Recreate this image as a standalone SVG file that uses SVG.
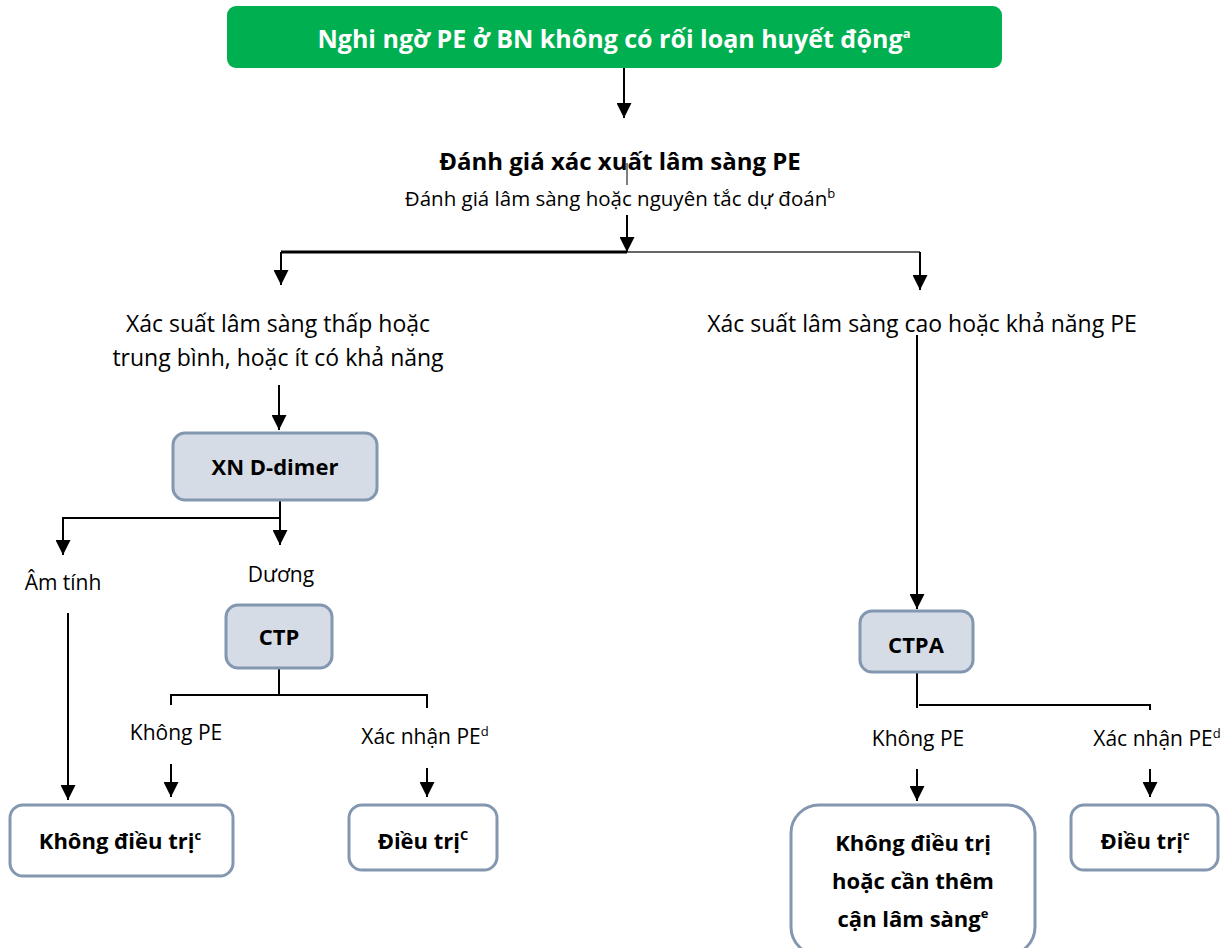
<svg xmlns="http://www.w3.org/2000/svg" width="1231" height="948" viewBox="0 0 1231 948">
<defs>
<style>
text{font-family:"Open Sans","Liberation Sans",sans-serif;fill:#000;text-anchor:middle}
.b{font-weight:bold}
.t{font-size:22px;font-weight:bold}
.r{font-size:23px}
.s{font-size:21px}
.sup{font-size:13px}
.grey{fill:#d6dce5;stroke:#8497b0;stroke-width:3}
.white{fill:#fff;stroke:#8497b0;stroke-width:3}
.ln{fill:none;stroke:#000;stroke-width:2}
</style>
<marker id="ahb" viewBox="0 0 10 10" refX="10" refY="5" markerWidth="15" markerHeight="15" markerUnits="userSpaceOnUse" orient="auto"><path d="M0,0 L10,5 L0,10 z" fill="#000"/></marker>
</defs>

<g id="connectors">
<path class="ln" d="M624,68 V118" marker-end="url(#ahb)"/>
<path d="M627,163 V185" stroke="#000" stroke-width="1" fill="none"/>
<path class="ln" d="M627,215 V252" marker-end="url(#ahb)"/>
<path d="M281,252 H627" stroke="#000" stroke-width="3" fill="none"/>
<path d="M627,252 H920" stroke="#333" stroke-width="1.5" fill="none"/>
<path class="ln" d="M281,252 V285" marker-end="url(#ahb)"/>
<path class="ln" d="M920,252 V290" marker-end="url(#ahb)"/>
<path class="ln" d="M279,385 V430" marker-end="url(#ahb)"/>
<path class="ln" d="M280,500 V518 H63 V555" marker-end="url(#ahb)"/>
<path class="ln" d="M280,518 V545" marker-end="url(#ahb)"/>
<path class="ln" d="M68,613 V800" marker-end="url(#ahb)"/>
<path class="ln" d="M279,668 V695"/>
<path class="ln" d="M171,705 V695 H427 V708"/>
<path class="ln" d="M171,764 V797" marker-end="url(#ahb)"/>
<path class="ln" d="M427,768 V797" marker-end="url(#ahb)"/>
<path class="ln" d="M917,335 V609" marker-end="url(#ahb)"/>
<path class="ln" d="M917,672 V708"/>
<path class="ln" d="M919,705 H1150 V710"/>
<path class="ln" d="M917,769 V801" marker-end="url(#ahb)"/>
<path class="ln" d="M1150,769 V797" marker-end="url(#ahb)"/>
</g>

<g id="n-start">
<rect x="227" y="6" width="775" height="62" rx="9" fill="#00b050"/>
<text x="614" y="48" class="b" style="fill:#fff;font-size:25px">Nghi ngờ PE ở BN không có rối loạn huyết động<tspan class="sup" dy="-10">a</tspan></text>
</g>

<g id="n-assess">
<text x="620" y="170" class="b" style="font-size:24px">Đánh giá xác xuất lâm sàng PE</text>
<text x="620" y="206" style="font-size:20.5px">Đánh giá lâm sàng hoặc nguyên tắc dự đoán<tspan class="sup" dy="-8">b</tspan></text>
</g>

<g id="n-low">
<text x="278" y="332" class="r">Xác suất lâm sàng thấp hoặc</text>
<text x="278" y="366" class="r">trung bình, hoặc ít có khả năng</text>
</g>

<g id="n-high">
<text x="922" y="332" class="r">Xác suất lâm sàng cao hoặc khả năng PE</text>
</g>

<g id="n-ddimer">
<rect class="grey" x="173" y="433" width="204" height="67" rx="12"/>
<text x="275" y="475" class="t">XN D-dimer</text>
</g>

<g id="n-neg"><text x="63" y="590" class="s">Âm tính</text></g>
<g id="n-pos"><text x="281" y="582" class="s">Dương</text></g>

<g id="n-ctp">
<rect class="grey" x="226" y="605" width="106" height="63" rx="12"/>
<text x="279" y="645" class="t">CTP</text>
</g>

<g id="n-nope1"><text x="176" y="740" class="s">Không PE</text></g>
<g id="n-conf1"><text x="425" y="744" class="s">Xác nhận PE<tspan class="sup" dy="-8">d</tspan></text></g>

<g id="n-notreat1">
<rect class="white" x="10" y="805" width="223" height="71" rx="13"/>
<text x="120" y="849" class="t">Không điều trị<tspan class="sup" dy="-9">c</tspan></text>
</g>

<g id="n-treat1">
<rect class="white" x="349" y="805" width="148" height="65" rx="13"/>
<text x="423" y="849" class="t">Điều trị<tspan class="sup" dy="-9">C</tspan></text>
</g>

<g id="n-ctpa">
<rect class="grey" x="860" y="611" width="113" height="61" rx="12"/>
<text x="916" y="653" class="t">CTPA</text>
</g>

<g id="n-nope2"><text x="918" y="746" class="s">Không PE</text></g>
<g id="n-conf2"><text x="1157" y="746" class="s">Xác nhận PE<tspan class="sup" dy="-8">d</tspan></text></g>

<g id="n-notreat2">
<rect class="white" x="791" y="805" width="244" height="150" rx="28"/>
<text x="913" y="851" class="t">Không điều trị</text>
<text x="913" y="889" class="t">hoặc cần thêm</text>
<text x="913" y="927" class="t">cận lâm sàng<tspan class="sup" dy="-9">e</tspan></text>
</g>

<g id="n-treat2">
<rect class="white" x="1071" y="805" width="147" height="65" rx="13"/>
<text x="1145" y="849" class="t">Điều trị<tspan class="sup" dy="-9">c</tspan></text>
</g>
</svg>
